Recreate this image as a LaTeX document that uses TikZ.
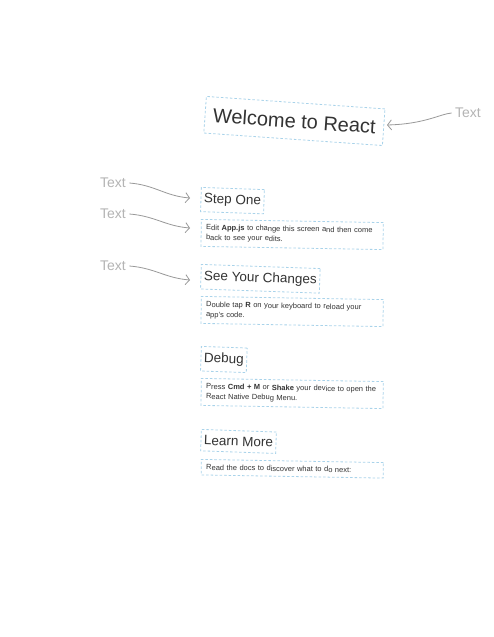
\documentclass[tikz,border=0pt]{standalone}
\usepackage{fontspec}
\setmainfont{Liberation Sans}
\usetikzlibrary{arrows.meta}
\definecolor{boxblue}{HTML}{A9D3EA}
\definecolor{lblgray}{HTML}{B4B4B4}
\definecolor{txt}{HTML}{333333}
\tikzset{
  dbox/.style={draw=boxblue, dash pattern=on 2.5pt off 2pt, line width=0.8pt, inner sep=3pt, text=txt},
  hdr/.style={dbox, anchor=north west, font=\fontsize{13.5}{15}\selectfont, rotate=-2, inner ysep=6pt},
  bodyb/.style={dbox, anchor=north west, font=\fontsize{7.5}{10}\selectfont, text width=172pt, inner xsep=5pt, align=left, rotate=-1, inner ysep=5pt},
  lbl/.style={text=lblgray, font=\fontsize{14}{16}\selectfont},
  ann/.style={draw=gray!80, line width=0.8pt, -{Straight Barb[length=4pt,width=10pt]}}
}
\begin{document}
\begin{tikzpicture}[x=1pt,y=-1pt]
\useasboundingbox (0,0) rectangle (494,637);
\fill[white] (0,0) rectangle (494,637);
% title
\node[dbox, anchor=north west, rotate=-4, font=\fontsize{20}{24}\selectfont, inner xsep=8pt, inner ysep=11pt] (title) at (206,96) {Welcome to React};
% headers & bodies
\node[hdr] (s1) at (201,187) {Step One};
\node[bodyb] (b1) at (201,219) {Edit \textbf{App.js} to change this screen and then come back to see your edits.};
\node[hdr] (s2) at (201,264) {See Your Changes};
\node[bodyb] (b2) at (201,296) {Double tap \textbf{R} on your keyboard to reload your app's code.};
\node[hdr] (s3) at (201,346) {Debug};
\node[bodyb] (b3) at (201,378) {Press \textbf{Cmd + M} or \textbf{Shake} your device to open the React Native Debug Menu.};
\node[hdr] (s4) at (201,429) {Learn More};
\node[bodyb] (b4) at (201,459) {Read the docs to discover what to do next:};
% labels
\node[lbl] (t0) at (468,113) {Text};
\node[lbl] (t1) at (113,183) {Text};
\node[lbl] (t2) at (113,214) {Text};
\node[lbl] (t3) at (113,266) {Text};
% arrows
\coordinate (e0) at (387,125);
\coordinate (e1) at (190,198);
\coordinate (e2) at (190,228);
\coordinate (e3) at (190,280);
\draw[ann] (t0.west) .. controls (440,114) and (425,124) .. (e0);
\draw[ann] (t1.east) .. controls (155,185) and (165,196) .. (e1);
\draw[ann] (t2.east) .. controls (155,216) and (165,226) .. (e2);
\draw[ann] (t3.east) .. controls (155,268) and (165,278) .. (e3);
\end{tikzpicture}
\end{document}
